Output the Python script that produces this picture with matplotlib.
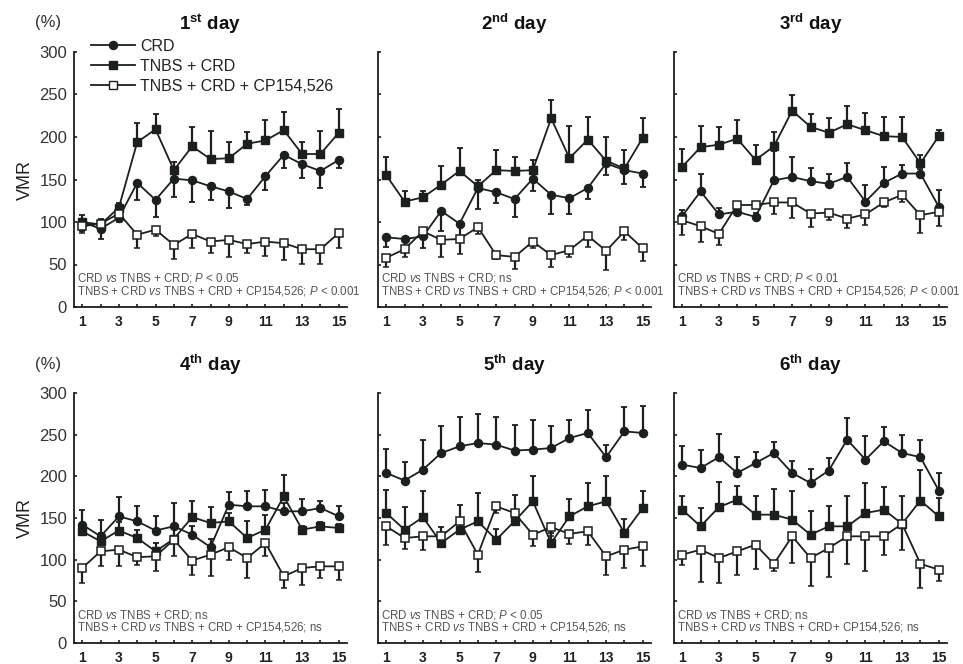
import matplotlib
matplotlib.use('Agg')
import matplotlib.pyplot as plt
from matplotlib.lines import Line2D
import numpy as np

plt.rcParams['font.family'] = ['Liberation Sans', 'DejaVu Sans']
plt.rcParams['mathtext.fontset'] = 'custom'
plt.rcParams['mathtext.rm'] = 'Liberation Sans'
plt.rcParams['mathtext.it'] = 'Liberation Sans:italic'
plt.rcParams['mathtext.bf'] = 'Liberation Sans:bold'

# distension number 1..15
stim = np.arange(1, 16)
x_ticks = [1, 3, 5, 7, 9, 11, 13, 15]
y_ticks = [0, 50, 100, 150, 200, 250, 300]

day_titles = [r'1$^{\mathbf{st}}$ day', r'2$^{\mathbf{nd}}$ day', r'3$^{\mathbf{rd}}$ day',
              r'4$^{\mathbf{th}}$ day', r'5$^{\mathbf{th}}$ day', r'6$^{\mathbf{th}}$ day']

# VMR (%) mean values, one list per day
crd_mean = [
    [100, 92, 105, 146, 126, 151, 149, 142, 136, 127, 154, 179, 168, 160, 173],
    [82, 80, 83, 113, 98, 140, 135, 127, 151, 132, 128, 140, 169, 161, 157],
    [107, 136, 109, 112, 106, 149, 153, 148, 145, 153, 124, 146, 157, 157, 118],
    [142, 128, 152, 146, 135, 140, 130, 115, 166, 164, 164, 158, 158, 162, 152],
    [204, 195, 208, 228, 236, 240, 238, 231, 232, 234, 246, 252, 223, 254, 252],
    [214, 210, 223, 204, 216, 228, 204, 192, 207, 244, 220, 242, 228, 223, 183],
]
crd_sem = [
    [10, 12, 5, 20, 20, 21, 25, 16, 19, 7, 16, 15, 16, 20, 10],
    [11, 8, 13, 23, 21, 25, 13, 21, 15, 23, 19, 13, 14, 16, 16],
    [7, 21, 7, 5, 5, 35, 24, 16, 12, 16, 20, 19, 10, 5, 20],
    [18, 20, 23, 19, 18, 28, 10, 10, 15, 19, 20, 10, 15, 9, 12],
    [29, 22, 36, 33, 35, 35, 33, 31, 36, 27, 22, 28, 15, 29, 32],
    [23, 22, 28, 19, 13, 13, 14, 17, 15, 26, 28, 17, 22, 21, 21],
]
tnbs_mean = [
    [100, 97, 117, 194, 209, 161, 189, 174, 175, 192, 196, 208, 180, 180, 205],
    [155, 124, 129, 144, 160, 142, 161, 160, 161, 222, 175, 197, 172, 163, 199],
    [165, 188, 191, 198, 173, 189, 231, 212, 205, 215, 208, 201, 200, 169, 201],
    [134, 122, 135, 126, 110, 125, 151, 144, 146, 126, 136, 176, 136, 140, 138],
    [156, 136, 151, 120, 136, 146, 124, 146, 170, 120, 152, 164, 170, 132, 162],
    [160, 140, 163, 172, 154, 154, 148, 130, 140, 140, 156, 160, 143, 171, 152],
]
tnbs_sem = [
    [8, 6, 5, 23, 18, 10, 23, 33, 19, 14, 24, 21, 14, 27, 28],
    [22, 12, 7, 22, 27, 8, 24, 17, 12, 21, 38, 26, 28, 22, 23],
    [21, 25, 21, 22, 17, 17, 18, 15, 17, 22, 20, 23, 24, 10, 7],
    [10, 10, 10, 10, 10, 15, 19, 19, 10, 20, 18, 26, 5, 5, 5],
    [28, 27, 31, 19, 30, 34, 13, 32, 30, 12, 21, 28, 30, 17, 21],
    [17, 22, 30, 16, 23, 31, 34, 29, 25, 37, 36, 27, 33, 37, 22],
]
cp_mean = [
    [95, 98, 110, 85, 91, 73, 86, 77, 79, 74, 77, 75, 68, 68, 87],
    [58, 68, 89, 79, 80, 94, 61, 59, 77, 61, 67, 84, 66, 89, 69],
    [102, 95, 86, 120, 120, 123, 123, 110, 111, 104, 109, 123, 132, 108, 112],
    [90, 110, 112, 103, 104, 124, 99, 106, 115, 102, 120, 80, 90, 92, 92],
    [140, 126, 128, 128, 146, 106, 164, 156, 130, 139, 131, 134, 104, 112, 116],
    [106, 112, 102, 110, 118, 95, 128, 102, 114, 128, 128, 128, 143, 95, 88],
]
cp_sem = [
    [8, 6, 4, 16, 8, 16, 17, 14, 20, 11, 17, 20, 17, 17, 18],
    [11, 9, 8, 20, 18, 8, 4, 14, 8, 14, 8, 13, 23, 10, 15],
    [17, 18, 13, 4, 3, 13, 18, 16, 9, 11, 12, 5, 9, 21, 17],
    [18, 18, 19, 9, 17, 20, 17, 26, 15, 24, 16, 14, 20, 14, 16],
    [22, 13, 16, 8, 10, 21, 8, 8, 13, 10, 12, 16, 22, 22, 24],
    [12, 39, 30, 28, 29, 8, 32, 33, 35, 33, 42, 22, 31, 29, 14],
]
# which side the CRD error bar is drawn on
crd_bar_up = [False, False, True, True, True, True]

stat_line1 = [r'CRD $\mathit{vs}$ TNBS + CRD; $\mathit{P}$ < 0.05',
              r'CRD $\mathit{vs}$ TNBS + CRD; ns',
              r'CRD $\mathit{vs}$ TNBS + CRD; $\mathit{P}$ < 0.01',
              r'CRD $\mathit{vs}$ TNBS + CRD; ns',
              r'CRD $\mathit{vs}$ TNBS + CRD; $\mathit{P}$ < 0.05',
              r'CRD $\mathit{vs}$ TNBS + CRD; ns']
stat_line2 = [r'TNBS + CRD $\mathit{vs}$ TNBS + CRD + CP154,526; $\mathit{P}$ < 0.001',
              r'TNBS + CRD $\mathit{vs}$ TNBS + CRD + CP154,526; $\mathit{P}$ < 0.001',
              r'TNBS + CRD $\mathit{vs}$ TNBS + CRD + CP154,526; $\mathit{P}$ < 0.001',
              r'TNBS + CRD $\mathit{vs}$ TNBS + CRD + CP154,526; ns',
              r'TNBS + CRD $\mathit{vs}$ TNBS + CRD + CP154,526; ns',
              r'TNBS + CRD $\mathit{vs}$ TNBS + CRD+ CP154,526; ns']

ink = '#1b201d'
W, H = 963, 664
fig = plt.figure(figsize=(W / 100, H / 100), dpi=100)

lefts = [74, 378, 674]
row_bottom = [307, 643]
row_height = [255, 250]

style = dict(lw=1.3, ms=5.8, elinewidth=1.6, capsize=2.5, capthick=1.3, color=ink)

for i in range(6):
    r, c = divmod(i, 3)
    ax = fig.add_axes([lefts[c] / W, 1 - row_bottom[r] / H, 273 / W, row_height[r] / H])
    z = np.zeros(15)

    t_err = [z, tnbs_sem[i]]
    ax.errorbar(stim, tnbs_mean[i], yerr=t_err, fmt='-s', mfc=ink, mec=ink, zorder=2, **style)
    c_err = [z, crd_sem[i]] if crd_bar_up[i] else [crd_sem[i], z]
    ax.errorbar(stim, crd_mean[i], yerr=c_err, fmt='-o', mfc=ink, mec=ink, zorder=3, **style)
    ax.errorbar(stim, cp_mean[i], yerr=[cp_sem[i], z], fmt='-s', mfc='white', mec=ink,
                mew=1.1, zorder=4, **style)

    ax.set_xlim(0.55, 15.45)
    ax.set_ylim(0, 300)
    ax.set_xticks(x_ticks)
    ax.set_xticks(stim, minor=True)
    ax.set_yticks(y_ticks)
    for s in ['top', 'right']:
        ax.spines[s].set_visible(False)
    for s in ['left', 'bottom']:
        ax.spines[s].set_linewidth(1.3)
        ax.spines[s].set_color(ink)
    ax.tick_params(axis='both', which='both', direction='in', length=2.5, width=1.2, color=ink)
    ax.tick_params(axis='x', pad=6, labelsize=10, labelcolor='#222222')
    for lab in ax.get_xticklabels():
        lab.set_fontweight('bold')
    if c == 0:
        ax.tick_params(axis='y', pad=5, labelsize=12, labelcolor='#333333')
        ax.set_ylabel('VMR', fontsize=13, color='#222222', labelpad=4)
        ax.text(-0.095, 1.115, '(%)', transform=ax.transAxes, fontsize=12,
                color='#333333', ha='center', va='center')
    else:
        ax.tick_params(axis='y', labelleft=False)

    ax.set_title(day_titles[i], fontsize=13.5, fontweight='bold', pad=16, color='#111111')

    ax.text(0.01, 0.10, stat_line1[i], transform=ax.transAxes, fontsize=8.3, color='#555555')
    ax.text(0.01, 0.05, stat_line2[i], transform=ax.transAxes, fontsize=8.3, color='#555555')

    if i == 0:
        handles = [Line2D([], [], color=ink, lw=1.3, marker='o', ms=5.8, mfc=ink, mec=ink),
                   Line2D([], [], color=ink, lw=1.3, marker='s', ms=5.8, mfc=ink, mec=ink),
                   Line2D([], [], color=ink, lw=1.3, marker='s', ms=5.8, mfc='white', mec=ink)]
        ax.legend(handles, ['CRD', 'TNBS + CRD', 'TNBS + CRD + CP154,526'],
                  loc='upper left', bbox_to_anchor=(0.02, 1.095), frameon=False,
                  fontsize=11.5, handlelength=2.8, handletextpad=0.3,
                  labelspacing=0.3, borderpad=0.2, labelcolor='#222222')

plt.savefig('out.png', dpi=100)
